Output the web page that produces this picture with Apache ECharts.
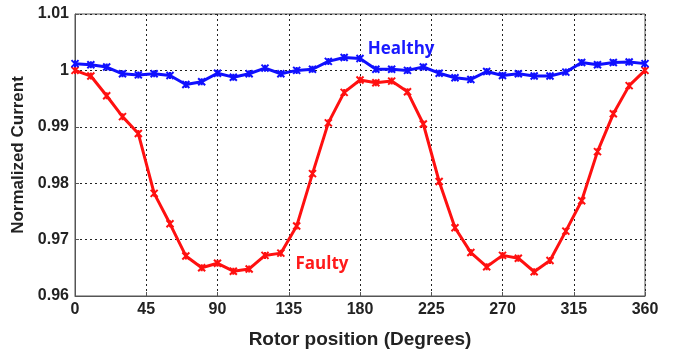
<!DOCTYPE html>
<html>
<head>
<meta charset="utf-8">
<script src="https://cdn.jsdelivr.net/npm/echarts@6/dist/echarts.min.js"></script>
<style>
  html, body { margin: 0; padding: 0; background: #fff; }
  #chart { width: 678px; height: 354px; }
</style>
</head>
<body>
<div id="chart"></div>
<script>
// Rotor position in degrees (one sample every 10 degrees)
const positions = [0,10,20,30,40,50,60,70,80,90,100,110,120,130,140,150,160,170,180,
  190,200,210,220,230,240,250,260,270,280,290,300,310,320,330,340,350,360];

// Normalized stator current, healthy machine
const healthy = [1.0012,1.0010,1.0006,0.9994,0.9992,0.9994,0.9991,0.9975,0.9980,0.9995,
  0.9988,0.9994,1.0004,0.9994,1.0000,1.0002,1.0016,1.0023,1.0021,1.0002,1.0002,1.0000,
  1.0006,0.9995,0.9987,0.9984,0.9998,0.9991,0.9994,0.9990,0.9990,0.9997,1.0014,1.0010,
  1.0014,1.0015,1.0012];

// Normalized stator current, faulty machine
const faulty = [1.0000,0.9990,0.9955,0.9918,0.9888,0.9782,0.9728,0.9671,0.9650,0.9658,
  0.9644,0.9648,0.9672,0.9676,0.9724,0.9817,0.9907,0.9961,0.9983,0.9978,0.9981,0.9962,
  0.9905,0.9803,0.9721,0.9677,0.9652,0.9672,0.9667,0.9643,0.9663,0.9715,0.9769,0.9856,
  0.9923,0.9973,1.0000];

// Axis settings
const xTicks = { min: 0, max: 360, interval: 45 };
const yTicks = { min: 0.96, max: 1.01, interval: 0.01 };

// Curve annotations: [text, position deg, value]
const healthyNote = ['Healthy', 206, 1.0038];
const faultyNote = ['Faulty', 156, 0.9656];

const starMarker = 'path://M0,0L10,10M10,0L0,10M5,0L5,10';

function pairs(xs, ys) { return xs.map((x, i) => [x, ys[i]]); }

const chart = echarts.init(document.getElementById('chart'), null, { renderer: 'canvas' });

const tickFont = { fontFamily: 'Liberation Sans', fontWeight: 'bold', fontSize: 16, color: '#222' };
const gridLine = { show: true, lineStyle: { color: '#222', type: [2, 3], width: 1 } };

function noteLabel(note, color) {
  return {
    symbol: 'circle',
    symbolSize: 2,
    silent: true,
    itemStyle: { color: 'rgba(0,0,0,0)', borderWidth: 0 },
    data: [{
      coord: [note[1], note[2]],
      label: {
        show: true, formatter: note[0], position: 'inside',
        fontFamily: 'Open Sans', fontWeight: 'bold', fontSize: 17, color: color
      }
    }]
  };
}

chart.setOption({
  animation: false,
  backgroundColor: '#fff',
  grid: {
    left: 75, right: 33, top: 14, bottom: 47,
    show: true, borderColor: '#555', borderWidth: 1, backgroundColor: 'transparent'
  },
  xAxis: {
    type: 'value',
    min: xTicks.min, max: xTicks.max, interval: xTicks.interval,
    name: 'Rotor position (Degrees)',
    nameLocation: 'middle', nameGap: 34,
    nameTextStyle: { fontFamily: 'Liberation Sans', fontWeight: 'bold', fontSize: 19, color: '#222' },
    axisLine: { show: true, lineStyle: { color: '#555', width: 1 } },
    axisTick: { show: true, inside: true, length: 4, lineStyle: { color: '#555' } },
    axisLabel: Object.assign({ margin: 6 }, tickFont),
    splitLine: gridLine
  },
  yAxis: {
    type: 'value',
    min: yTicks.min, max: yTicks.max, interval: yTicks.interval,
    name: 'Normalized Current',
    nameLocation: 'middle', nameGap: 44,
    nameTextStyle: { fontFamily: 'Liberation Sans', fontWeight: 'bold', fontSize: 17, color: '#222' },
    axisLine: { show: true, lineStyle: { color: '#555', width: 1 } },
    axisTick: { show: true, inside: true, length: 4, lineStyle: { color: '#555' } },
    axisLabel: Object.assign({ margin: 6, formatter: v => String(+v.toFixed(2)) }, tickFont),
    splitLine: gridLine
  },
  series: [
    {
      name: 'Healthy', type: 'line',
      data: pairs(positions, healthy),
      lineStyle: { color: '#1010ff', width: 3 },
      symbol: starMarker, symbolSize: 7, showAllSymbol: true,
      itemStyle: { color: 'transparent', borderColor: '#1010ff', borderWidth: 2 },
      markPoint: noteLabel(healthyNote, '#1a1aff'),
      z: 3
    },
    {
      name: 'Faulty', type: 'line',
      data: pairs(positions, faulty),
      lineStyle: { color: '#ff1010', width: 3 },
      symbol: starMarker, symbolSize: 7, showAllSymbol: true,
      itemStyle: { color: 'transparent', borderColor: '#ff1010', borderWidth: 2 },
      markPoint: noteLabel(faultyNote, '#ff1a1a'),
      z: 2
    }
  ]
});
</script>
</body>
</html>
